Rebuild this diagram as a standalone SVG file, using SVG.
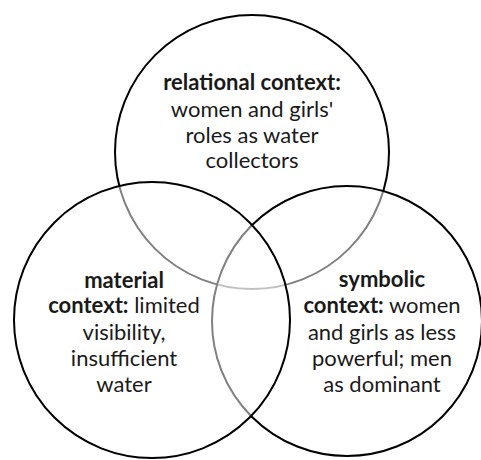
<svg xmlns="http://www.w3.org/2000/svg" width="481" height="460" viewBox="0 0 481 460">
  <style>
    .ring { fill: #ffffff; fill-opacity: 0.5; stroke: #000000; stroke-width: 2; }
    .label { font-family: Lato, "Open Sans", sans-serif; font-size: 22px; fill: #1a1a1a; text-anchor: middle; }
    .b { font-weight: bold; }
  </style>
  <rect width="481" height="460" fill="#ffffff"/>
  <!-- drawn back to front: each translucent disc softens the outlines beneath it -->
  <g id="relational">
    <circle class="ring" cx="252" cy="152" r="137"/>
    <text class="label" x="252" y="90"><tspan class="b">relational context:</tspan></text>
    <text class="label" x="252" y="117">women and girls'</text>
    <text class="label" x="252" y="143">roles as water</text>
    <text class="label" x="252" y="168">collectors</text>
  </g>
  <g id="symbolic">
    <circle class="ring" cx="347" cy="321" r="135"/>
    <text class="label" x="382" y="287"><tspan class="b">symbolic</tspan></text>
    <text class="label" x="382" y="313"><tspan class="b">context:</tspan> women</text>
    <text class="label" x="382" y="340">and girls as less</text>
    <text class="label" x="382" y="366">powerful; men</text>
    <text class="label" x="382" y="392">as dominant</text>
  </g>
  <g id="material">
    <circle class="ring" cx="152" cy="320" r="138"/>
    <text class="label" x="124" y="288"><tspan class="b">material</tspan></text>
    <text class="label" x="124" y="313"><tspan class="b">context:</tspan> limited</text>
    <text class="label" x="124" y="340">visibility,</text>
    <text class="label" x="124" y="366">insufficient</text>
    <text class="label" x="124" y="392">water</text>
  </g>
  <g id="connectors"/>
</svg>
